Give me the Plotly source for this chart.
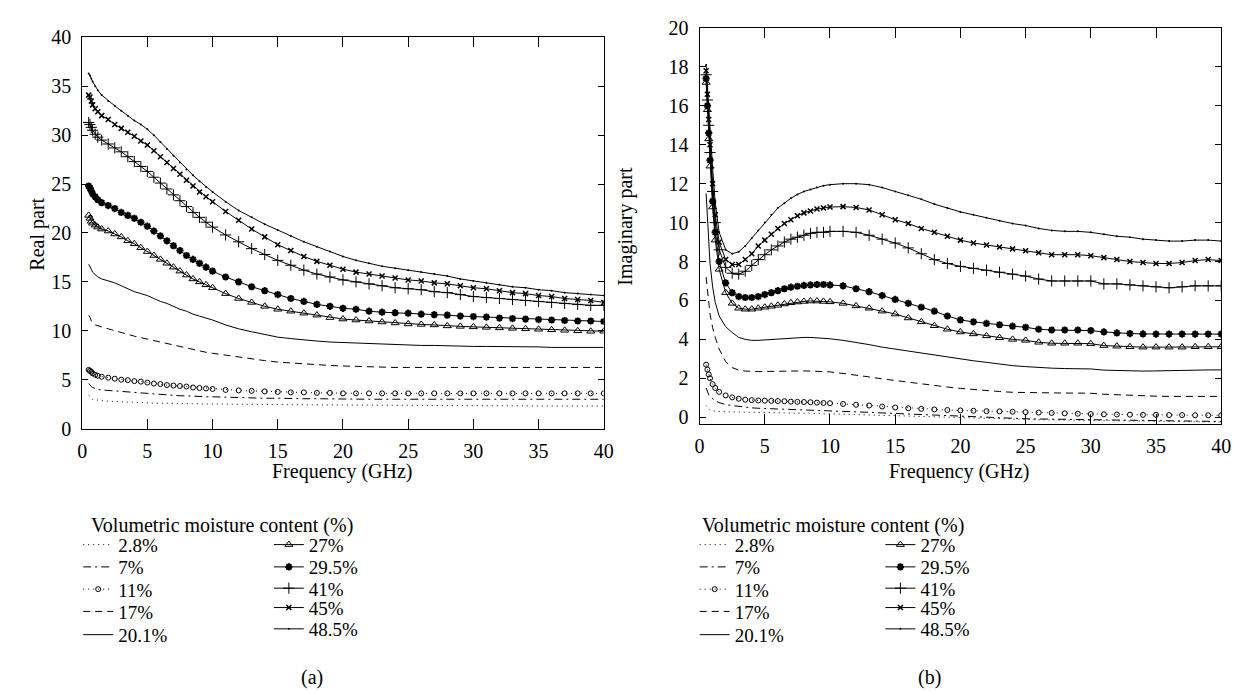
import plotly.graph_objects as go

# ---------------- data ----------------
freq = [0.5, 0.6, 0.7, 0.8, 1.0, 1.2, 1.5,
        2.0, 2.5, 3.0, 3.5, 4.0, 4.5, 5.0, 5.5, 6.0, 6.5, 7.0, 7.5, 8.0, 8.5, 9.0, 9.5, 10.0,
        11, 12, 13, 14, 15, 16, 17, 18, 19, 20, 21, 22, 23, 24, 25, 26, 27, 28, 29, 30,
        31, 32, 33, 34, 35, 36, 37, 38, 39, 40]

labels = ["2.8%", "7%", "11%", "17%", "20.1%", "27%", "29.5%", "41%", "45%", "48.5%"]

# Real part
re_2_8 = [3.4, 3.3, 3.1, 3.0, 2.95, 2.9, 2.85,
          2.8, 2.75, 2.75, 2.7, 2.7, 2.65, 2.65, 2.6, 2.6, 2.6, 2.58, 2.56, 2.55, 2.54, 2.52, 2.51, 2.5,
          2.49, 2.48, 2.47, 2.46, 2.45, 2.44, 2.43, 2.42, 2.41, 2.4, 2.39, 2.38, 2.37, 2.36, 2.35,
          2.34, 2.33, 2.32, 2.31, 2.3, 2.3, 2.3, 2.3, 2.3, 2.3, 2.3, 2.3, 2.3, 2.3, 2.3]
re_7 = [4.6, 4.5, 4.3, 4.2, 4.1, 4.0, 3.95,
        3.9, 3.85, 3.8, 3.7, 3.65, 3.6, 3.55, 3.5, 3.45, 3.4, 3.4, 3.35, 3.35, 3.3, 3.3, 3.25, 3.25,
        3.2, 3.15, 3.15, 3.1, 3.1, 3.05, 3.05, 3.05, 3.02, 3.0, 3.0, 3.0, 3.0, 3.0, 3.0,
        3.0, 3.0, 3.0, 3.0, 3.0, 3.0, 3.0, 3.0, 3.0, 3.0, 3.0, 3.0, 3.0, 3.0, 3.0]
re_11 = [6.0, 5.9, 5.8, 5.65, 5.5, 5.4, 5.3,
         5.2, 5.1, 5.0, 4.95, 4.85, 4.8, 4.7, 4.6, 4.55, 4.45, 4.4, 4.35, 4.3, 4.2, 4.15, 4.1, 4.05,
         3.95, 3.9, 3.85, 3.8, 3.75, 3.7, 3.7, 3.65, 3.65, 3.6, 3.6, 3.6, 3.6, 3.6, 3.6,
         3.6, 3.6, 3.6, 3.6, 3.6, 3.6, 3.6, 3.6, 3.6, 3.6, 3.6, 3.6, 3.6, 3.6, 3.6]
re_17 = [11.6, 11.4, 11.0, 10.8, 10.6, 10.5, 10.4,
         10.2, 10.0, 9.8, 9.6, 9.45, 9.3, 9.15, 9.0, 8.8, 8.65, 8.5, 8.35, 8.2, 8.05, 7.9, 7.8, 7.7,
         7.5, 7.3, 7.1, 6.95, 6.8, 6.7, 6.6, 6.5, 6.45, 6.4, 6.35, 6.3, 6.3, 6.25, 6.25,
         6.25, 6.25, 6.25, 6.25, 6.25, 6.25, 6.25, 6.25, 6.25, 6.25, 6.25, 6.25, 6.25, 6.25, 6.25]
re_20_1 = [16.8, 16.6, 16.3, 16.0, 15.7, 15.5, 15.3,
           15.1, 14.9, 14.6, 14.3, 14.0, 13.8, 13.6, 13.3, 13.0, 12.8, 12.5, 12.2, 12.0, 11.7, 11.5, 11.3, 11.1,
           10.6, 10.2, 9.9, 9.6, 9.35, 9.2, 9.05, 8.95, 8.85, 8.8, 8.7, 8.65, 8.6, 8.55, 8.55,
           8.5, 8.5, 8.45, 8.45, 8.4, 8.4, 8.4, 8.35, 8.35, 8.35, 8.3, 8.3, 8.3, 8.3, 8.3]
re_27 = [21.8, 21.5, 21.2, 21.0, 20.8, 20.6, 20.4,
         20.2, 19.9, 19.6, 19.2, 18.9, 18.5, 18.1, 17.7, 17.3, 16.9, 16.5, 16.1, 15.7, 15.3, 15.0, 14.7, 14.4,
         13.8, 13.3, 12.9, 12.5, 12.2, 12.0, 11.8, 11.6, 11.35, 11.2, 11.1, 11.0, 10.9, 10.8, 10.7,
         10.65, 10.6, 10.5, 10.45, 10.4, 10.35, 10.3, 10.25, 10.2, 10.15, 10.1, 10.05, 10.0, 9.95, 9.95]
re_29_5 = [24.8, 24.6, 24.3, 24.0, 23.7, 23.4, 23.1,
           22.8, 22.5, 22.1, 21.8, 21.5, 21.1, 20.7, 20.2, 19.7, 19.2, 18.7, 18.2, 17.7, 17.3, 16.9, 16.5, 16.1,
           15.5, 15.0, 14.5, 14.1, 13.7, 13.3, 13.0, 12.7, 12.5, 12.3, 12.2, 12.0, 11.9, 11.85, 11.8,
           11.7, 11.65, 11.6, 11.5, 11.45, 11.4, 11.3, 11.25, 11.2, 11.15, 11.1, 11.05, 11.0, 11.0, 10.95]
re_41 = [31.3, 31.1, 30.8, 30.5, 30.1, 29.8, 29.5,
         29.1, 28.7, 28.3, 27.8, 27.3, 26.8, 26.3, 25.7, 25.1, 24.5, 23.9, 23.3, 22.7, 22.1, 21.6, 21.1, 20.6,
         19.8, 19.1, 18.4, 17.8, 17.2, 16.7, 16.2, 15.8, 15.5, 15.2, 15.0, 14.8, 14.6, 14.4, 14.3,
         14.2, 14.0, 13.9, 13.7, 13.5, 13.4, 13.3, 13.2, 13.1, 13.0, 12.9, 12.8, 12.7, 12.6, 12.6]
re_45 = [34.1, 33.9, 33.5, 33.1, 32.7, 32.4, 32.0,
         31.6, 31.1, 30.7, 30.3, 29.9, 29.4, 29.0, 28.4, 27.8, 27.2, 26.6, 26.0, 25.4, 24.8, 24.2, 23.7, 23.2,
         22.2, 21.3, 20.4, 19.6, 18.8, 18.2, 17.6, 17.1, 16.7, 16.3, 16.0, 15.8, 15.6, 15.4, 15.2,
         15.1, 14.9, 14.8, 14.6, 14.4, 14.3, 14.1, 13.9, 13.8, 13.6, 13.5, 13.3, 13.2, 13.1, 12.9]
re_48_5 = [36.3, 36.1, 35.8, 35.5, 35.0, 34.6, 34.1,
           33.5, 33.0, 32.5, 32.0, 31.5, 31.1, 30.6, 30.0, 29.3, 28.6, 27.9, 27.2, 26.5, 25.9, 25.3, 24.7, 24.2,
           23.2, 22.3, 21.6, 20.9, 20.3, 19.7, 19.1, 18.6, 18.1, 17.6, 17.2, 16.9, 16.6, 16.4, 16.2,
           16.0, 15.8, 15.6, 15.3, 15.1, 14.9, 14.7, 14.5, 14.4, 14.2, 14.1, 13.9, 13.8, 13.7, 13.6]

# Imaginary part
im_2_8 = [0.6, 0.5, 0.4, 0.35, 0.32, 0.3, 0.29,
          0.28, 0.27, 0.26, 0.25, 0.25, 0.24, 0.24, 0.23, 0.23, 0.22, 0.22, 0.21, 0.2, 0.2, 0.19, 0.18, 0.17,
          0.15, 0.13, 0.11, 0.09, 0.07, 0.05, 0.03, 0.01, -0.01, -0.03, -0.05, -0.07, -0.09, -0.11, -0.12,
          -0.13, -0.14, -0.15, -0.16, -0.17, -0.18, -0.19, -0.2, -0.21, -0.22, -0.23, -0.24, -0.24, -0.25, -0.25]
im_7 = [1.5, 1.3, 1.15, 1.05, 0.95, 0.85, 0.75,
        0.65, 0.6, 0.55, 0.5, 0.48, 0.46, 0.45, 0.43, 0.42, 0.41, 0.4, 0.39, 0.38, 0.37, 0.36, 0.35, 0.34,
        0.31, 0.28, 0.25, 0.22, 0.19, 0.16, 0.13, 0.1, 0.07, 0.04, 0.01, -0.02, -0.04, -0.06, -0.08,
        -0.09, -0.1, -0.11, -0.12, -0.13, -0.14, -0.15, -0.16, -0.17, -0.18, -0.19, -0.2, -0.2, -0.21, -0.22]
im_11 = [2.7, 2.45, 2.2, 2.0, 1.7, 1.5, 1.3,
         1.12, 1.02, 0.95, 0.9, 0.88, 0.86, 0.85, 0.84, 0.83, 0.82, 0.8, 0.79, 0.78, 0.77, 0.75, 0.73, 0.72,
         0.68, 0.64, 0.6, 0.55, 0.5, 0.46, 0.43, 0.4, 0.37, 0.35, 0.33, 0.31, 0.3, 0.28, 0.26,
         0.24, 0.22, 0.2, 0.18, 0.16, 0.15, 0.14, 0.13, 0.12, 0.12, 0.11, 0.11, 0.1, 0.1, 0.1]
im_17 = [7.2, 6.5, 5.9, 5.3, 4.6, 4.1, 3.5,
         2.85, 2.55, 2.42, 2.37, 2.35, 2.35, 2.35, 2.36, 2.37, 2.38, 2.38, 2.38, 2.38, 2.37, 2.36, 2.35, 2.33,
         2.25, 2.17, 2.07, 1.97, 1.88, 1.8, 1.7, 1.62, 1.55, 1.48, 1.42, 1.37, 1.32, 1.28, 1.26,
         1.25, 1.24, 1.24, 1.24, 1.23, 1.18, 1.15, 1.12, 1.1, 1.08, 1.07, 1.07, 1.07, 1.07, 1.07]
im_20_1 = [11.5, 10.3, 9.0, 7.9, 6.7, 5.9, 5.2,
           4.65, 4.35, 4.1, 4.0, 3.95, 3.95, 3.97, 4.0, 4.03, 4.06, 4.08, 4.1, 4.1, 4.1, 4.08, 4.06, 4.03,
           3.95, 3.85, 3.73, 3.6, 3.5, 3.38, 3.28, 3.18, 3.08, 3.0, 2.9, 2.82, 2.72, 2.65, 2.6,
           2.55, 2.52, 2.5, 2.5, 2.48, 2.42, 2.4, 2.38, 2.37, 2.38, 2.4, 2.42, 2.43, 2.43, 2.43]
im_27 = [17.2, 15.8, 14.3, 12.9, 10.8, 9.1, 7.6,
         6.4, 5.85, 5.6, 5.55, 5.55, 5.6, 5.65, 5.7, 5.75, 5.82, 5.88, 5.92, 5.95, 5.97, 5.97, 5.95, 5.93,
         5.85, 5.72, 5.6, 5.45, 5.3, 5.1, 4.9, 4.7, 4.52, 4.38, 4.28, 4.18, 4.08, 4.0, 3.95,
         3.85, 3.8, 3.8, 3.8, 3.78, 3.68, 3.65, 3.62, 3.6, 3.6, 3.6, 3.6, 3.62, 3.62, 3.62]
im_29_5 = [17.4, 16.0, 14.6, 13.2, 11.1, 9.5, 8.0,
           6.9, 6.4, 6.2, 6.15, 6.15, 6.2, 6.3, 6.4, 6.5, 6.6, 6.68, 6.73, 6.77, 6.8, 6.82, 6.82, 6.8,
           6.75, 6.6, 6.45, 6.25, 6.05, 5.85, 5.65, 5.45, 5.2, 5.0, 4.9, 4.82, 4.75, 4.68, 4.62,
           4.52, 4.48, 4.48, 4.48, 4.45, 4.38, 4.33, 4.3, 4.28, 4.27, 4.27, 4.27, 4.27, 4.27, 4.27]
im_41 = [17.6, 16.3, 15.0, 13.6, 11.6, 10.0, 8.6,
         7.7, 7.4, 7.35, 7.5, 7.8, 8.1, 8.35, 8.6, 8.8, 9.0, 9.15, 9.25, 9.35, 9.45, 9.5, 9.5, 9.55,
         9.55, 9.5, 9.35, 9.15, 8.95, 8.7, 8.4, 8.1, 7.9, 7.75, 7.65, 7.55, 7.45, 7.35, 7.25,
         7.1, 7.0, 7.0, 7.0, 7.0, 6.85, 6.85, 6.8, 6.75, 6.7, 6.65, 6.7, 6.75, 6.75, 6.75]
im_45 = [17.8, 16.6, 15.3, 14.0, 12.0, 10.4, 9.0,
         8.1, 7.85, 7.85, 8.1, 8.4, 8.8, 9.1, 9.4, 9.7, 9.95, 10.15, 10.35, 10.5, 10.6, 10.7, 10.75, 10.8,
         10.82, 10.78, 10.65, 10.4, 10.15, 9.95, 9.7, 9.5, 9.3, 9.1, 8.95, 8.85, 8.75, 8.65, 8.55,
         8.45, 8.35, 8.35, 8.35, 8.3, 8.2, 8.1, 8.0, 7.95, 7.9, 7.9, 7.95, 8.05, 8.1, 8.05]
im_48_5 = [18.1, 17.0, 15.8, 14.7, 12.8, 11.0, 9.5,
           8.6, 8.4, 8.5, 8.8, 9.2, 9.6, 10.0, 10.4, 10.75, 11.0, 11.25, 11.45, 11.6, 11.7, 11.8, 11.9, 11.95,
           12.0, 12.0, 11.95, 11.8, 11.6, 11.4, 11.2, 10.95, 10.75, 10.55, 10.4, 10.25, 10.1, 9.95, 9.85,
           9.7, 9.6, 9.55, 9.55, 9.5, 9.4, 9.3, 9.25, 9.15, 9.1, 9.05, 9.05, 9.1, 9.1, 9.05]

real_series = [re_2_8, re_7, re_11, re_17, re_20_1, re_27, re_29_5, re_41, re_45, re_48_5]
imag_series = [im_2_8, im_7, im_11, im_17, im_20_1, im_27, im_29_5, im_41, im_45, im_48_5]

x_ticks = [0, 5, 10, 15, 20, 25, 30, 35, 40]
real_ticks = [0, 5, 10, 15, 20, 25, 30, 35, 40]
imag_ticks = [0, 2, 4, 6, 8, 10, 12, 14, 16, 18, 20]

# ---------------- styles ----------------
styles = {
    "2.8%":  dict(dash="1px,4px", mode="lines", symbol=None),
    "7%":    dict(dash="8px,4px,2px,4px", mode="lines", symbol=None),
    "11%":   dict(dash="1px,4px", mode="lines+markers", symbol="circle-open", size=5, mlw=1),
    "17%":   dict(dash="7px,5px", mode="lines", symbol=None),
    "20.1%": dict(dash="solid", mode="lines", symbol=None),
    "27%":   dict(dash="solid", mode="lines+markers", symbol="triangle-up-open", size=7, mlw=1),
    "29.5%": dict(dash="solid", mode="lines+markers", symbol="asterisk-open", size=6, mlw=2),
    "41%":   dict(dash="solid", mode="lines+markers", symbol="cross-thin-open", size=8, mlw=1),
    "45%":   dict(dash="solid", mode="lines+markers", symbol="x-thin-open", size=5, mlw=1.5),
    "48.5%": dict(dash="solid", mode="lines+markers", symbol="circle", size=2, mlw=0),
}

W, H = 1241, 693
def px(x):
    return x / W
def py(y):
    return 1 - y / H

FONT = "Liberation Serif, Times New Roman, DejaVu Serif, serif"
fig = go.Figure()

# legend layout: one legend per entry, two columns per panel
row_y_col1 = [543, 566, 589, 612, 636]
row_y_col2 = [543, 566, 588, 608, 630]
panels = [
    ("a", real_series, "x", "y", 66, 259),
    ("b", imag_series, "x2", "y2", 690, 878),
]
legend_layout = {}
leg_font = dict(family=FONT, size=19, color="black")
n = 0
for panel, series_list, xa, ya, col1_x, col2_x in panels:
    for i, (lab, vals) in enumerate(zip(labels, series_list)):
        assert len(vals) == len(freq), (panel, lab, len(vals))
        n += 1
        leg_name = "legend" if n == 1 else "legend%d" % n
        if i < 5:
            lx, ly = col1_x, row_y_col1[i]
        else:
            lx, ly = col2_x, row_y_col2[i - 5]
        legend_layout[leg_name] = dict(
            x=px(lx), y=py(ly), xanchor="left", yanchor="middle",
            bgcolor="rgba(0,0,0,0)", font=leg_font, itemsizing="trace",
        )
        st = styles[lab]
        kw = dict(
            x=freq, y=vals, name=lab, mode=st["mode"], xaxis=xa, yaxis=ya,
            line=dict(color="black", width=1, dash=st["dash"]),
            legend=leg_name, showlegend=True,
        )
        if st["symbol"]:
            kw["marker"] = dict(symbol=st["symbol"], size=st["size"], color="black",
                                line=dict(color="black", width=st["mlw"]))
        fig.add_trace(go.Scatter(**kw))

axis_common = dict(
    showline=True, linecolor="black", linewidth=1, mirror="ticks",
    ticks="inside", tickcolor="black", tickwidth=1,
    showgrid=False, zeroline=False,
    tickfont=dict(family=FONT, size=20, color="black"),
)

fig.update_layout(
    width=W, height=H,
    margin=dict(l=0, r=0, t=0, b=0),
    paper_bgcolor="white", plot_bgcolor="white",
    font=dict(family=FONT, color="black"),
    xaxis=dict(domain=[px(70), px(598)], range=[0, 40], tickvals=x_ticks, anchor="y",
               ticklen=10, ticklabelstandoff=4, **axis_common),
    yaxis=dict(domain=[py(423), py(19)], range=[0, 40], tickvals=real_ticks, anchor="x",
               ticklen=6, ticklabelstandoff=6, **axis_common),
    xaxis2=dict(domain=[px(695), px(1223)], range=[0, 40], tickvals=x_ticks, anchor="y2",
                ticklen=10, ticklabelstandoff=4, **axis_common),
    yaxis2=dict(domain=[py(418.3), py(9.3)], range=[-0.35, 20], tickvals=imag_ticks, anchor="x2",
                ticklen=6, ticklabelstandoff=6, **axis_common),
    **legend_layout,
)

ann_font = dict(family=FONT, size=20, color="black")
annotations = [
    dict(text="Real part", x=px(25), y=py(222), textangle=-90),
    dict(text="Frequency (GHz)", x=px(334), y=py(467)),
    dict(text="Imaginary part", x=px(620), y=py(214), textangle=-90),
    dict(text="Frequency (GHz)", x=px(958), y=py(467)),
    dict(text="(a)", x=px(303), y=py(680)),
    dict(text="(b)", x=px(928), y=py(680)),
]
for a in annotations:
    a.update(xref="paper", yref="paper", showarrow=False, font=ann_font,
             xanchor="center", yanchor="middle")
annotations += [
    dict(text="Volumetric moisture content (%)", x=px(77), y=py(523), xref="paper", yref="paper",
         showarrow=False, font=ann_font, xanchor="left", yanchor="middle"),
    dict(text="Volumetric moisture content (%)", x=px(695), y=py(523), xref="paper", yref="paper",
         showarrow=False, font=ann_font, xanchor="left", yanchor="middle"),
]
fig.update_layout(annotations=annotations)

fig.write_html("out.html")
